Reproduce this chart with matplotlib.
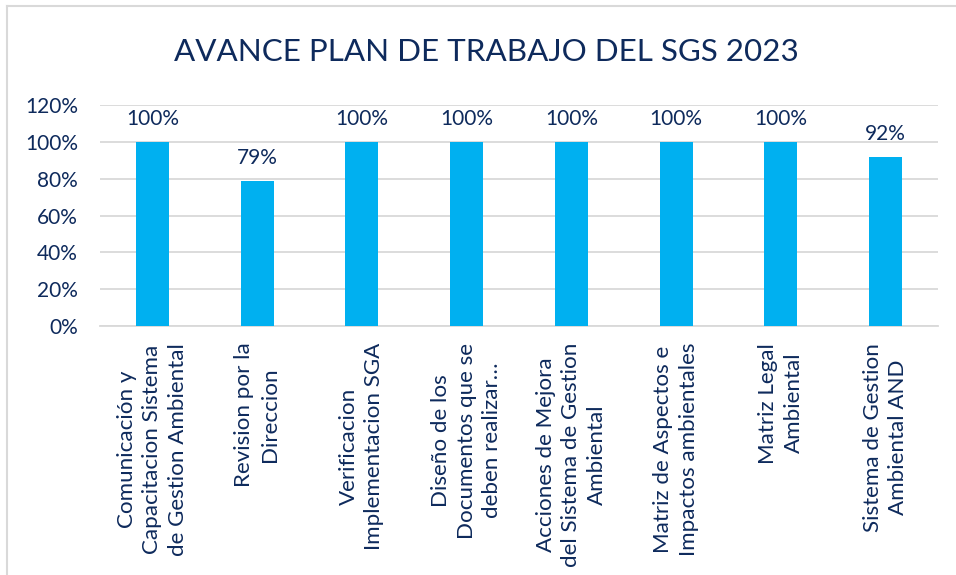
import matplotlib
matplotlib.use("Agg")
import matplotlib.pyplot as plt
from matplotlib.lines import Line2D

categorias = ["Comunicación y\nCapacitacion Sistema\nde Gestion Ambiental",
              "Revision por la\nDireccion",
              "Verificacion\nImplementacion SGA",
              "Diseño de los\nDocumentos que se\ndeben realizar…",
              "Acciones de Mejora\ndel Sistema de Gestion\nAmbiental",
              "Matriz de Aspectos e\nImpactos ambientales",
              "Matriz Legal\nAmbiental",
              "Sistema de Gestion\nAmbiental AND"]
avance = [1.00, 0.79, 1.00, 1.00, 1.00, 1.00, 1.00, 0.92]
etiquetas = ["100%", "79%", "100%", "100%", "100%", "100%", "100%", "92%"]
ticks_y = [0, 0.2, 0.4, 0.6, 0.8, 1.0, 1.2]
ticks_y_txt = ["0%", "20%", "40%", "60%", "80%", "100%", "120%"]

azul = "#00B0F0"
texto = "#0E2A5C"
gris = "#D9D9D9"

plt.rcParams['font.family'] = ['Lato', 'DejaVu Sans']

fig = plt.figure(figsize=(9.56, 5.75), dpi=100)
ax = fig.add_axes([0.1046, 0.433, 0.8765, 0.3844])

x = list(range(len(categorias)))
barras = ax.bar(x, avance, width=0.315, color=azul, zorder=3)
ax.bar_label(barras, labels=etiquetas, padding=9, fontsize=15, color=texto)

ax.set_xlim(-0.5, len(categorias) - 0.5)
ax.set_ylim(0, 1.2)
ax.set_yticks(ticks_y)
ax.set_yticklabels(ticks_y_txt, fontsize=15, color=texto)
ax.set_xticks(x)
ax.set_xticklabels(categorias, rotation=90, fontsize=16.1, color=texto,
                   ha='center', va='top', ma='center', linespacing=1.33)
ax.tick_params(axis='both', length=0)
ax.tick_params(axis='y', pad=16)
ax.tick_params(axis='x', pad=12)
ax.grid(axis='y', color=gris, linewidth=1.3, zorder=0)
for s in ['top', 'right', 'left']:
    ax.spines[s].set_visible(False)
ax.spines['bottom'].set_color(gris)
ax.spines['bottom'].set_linewidth(1.3)

fig.text(0.509, 0.91, "AVANCE PLAN DE TRABAJO DEL SGS 2023", ha='center', va='center',
         fontsize=22.6, color=texto)

# marco del grafico
fig.add_artist(Line2D([7 / 956, 1], [1 - 6 / 575, 1 - 6 / 575], color=gris, linewidth=1.5))
fig.add_artist(Line2D([7 / 956, 7 / 956], [0, 1 - 6 / 575], color=gris, linewidth=1.5))

fig.savefig("out.png", dpi=100)
